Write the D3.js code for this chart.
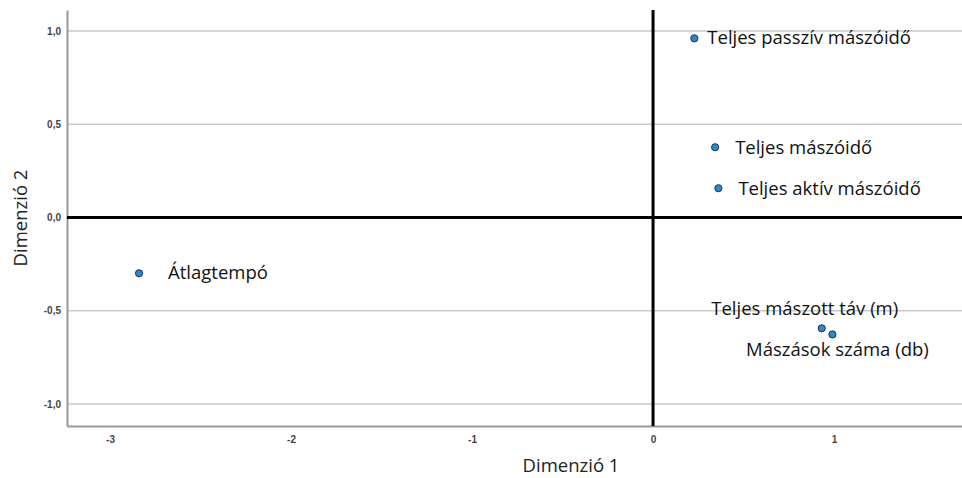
<!DOCTYPE html>
<html><head><meta charset="utf-8">
<script src="https://cdn.jsdelivr.net/npm/d3@7"></script>
<style>body{margin:0;background:#fff}svg{display:block}</style>
</head><body>
<svg id="c" width="962" height="478"></svg>
<script>
const names = ["Átlagtempó","Teljes passzív mászóidő","Teljes mászóidő","Teljes aktív mászóidő","Teljes mászott táv (m)","Mászások száma (db)"];
const dim1 = [-2.84, 0.228, 0.343, 0.361, 0.932, 0.991];
const dim2 = [-0.299, 0.961, 0.377, 0.157, -0.594, -0.627];
const xTicks = [-3, -2, -1, 0, 1];
const xTickLabels = ["-3", "-2", "-1", "0", "1"];
const yTicks = [1.0, 0.5, 0.0, -0.5, -1.0];
const yTickLabels = ["1,0", "0,5", "0,0", "-0,5", "-1,0"];
const xTitle = "Dimenzió 1";
const yTitle = "Dimenzió 2";

// label placement (style): [dx, dy, anchor]
const labelPos = [[29,1,"start"],[13,1,"start"],[20,2,"start"],[20,2,"start"],[-17,-18,"middle"],[5,17,"middle"]];

const svg = d3.select("#c");
const L = 67, R = 962, T = 10, B = 426;
const x = d3.scaleLinear().domain([-3.238, 1.707]).range([L, R]);
const y = d3.scaleLinear().domain([-1.118, 1.113]).range([B, T]);

// grid lines
svg.append("g").selectAll("line").data(yTicks.filter(d => d !== 0)).join("line")
  .attr("x1", L).attr("x2", R).attr("y1", d => y(d)).attr("y2", d => y(d))
  .attr("stroke", "#c9c9c9").attr("stroke-width", 1.5);

// axes
const xAxis = d3.axisBottom(x).tickValues(xTicks).tickFormat((d,i) => xTickLabels[i]).tickSize(0).tickPadding(10);
const gx = svg.append("g").attr("transform", `translate(0,${B})`).call(xAxis);
gx.select(".domain").attr("stroke", "#999").attr("stroke-width", 2);
gx.selectAll("text").attr("font-family", "Liberation Sans, Arial, sans-serif").attr("font-size", 10).attr("font-weight", "bold").attr("fill", "#444");

const yAxis = d3.axisLeft(y).tickValues(yTicks).tickFormat((d,i) => yTickLabels[i]).tickSize(0).tickPadding(6);
const gy = svg.append("g").attr("transform", `translate(${L},0)`).call(yAxis);
gy.select(".domain").attr("stroke", "#999").attr("stroke-width", 2);
gy.selectAll("text").attr("font-family", "Liberation Sans, Arial, sans-serif").attr("font-size", 10).attr("font-weight", "bold").attr("fill", "#444");

// zero lines
svg.append("line").attr("x1", L).attr("x2", R).attr("y1", y(0)).attr("y2", y(0)).attr("stroke", "#000").attr("stroke-width", 3);
svg.append("line").attr("x1", x(0)).attr("x2", x(0)).attr("y1", T).attr("y2", B).attr("stroke", "#000").attr("stroke-width", 3);

// points
const pts = names.map((n, i) => ({n, a: dim1[i], b: dim2[i], p: labelPos[i]}));
svg.append("g").selectAll("circle").data(pts).join("circle")
  .attr("cx", d => x(d.a)).attr("cy", d => y(d.b)).attr("r", 3.6)
  .attr("fill", "#2f86c8").attr("stroke", "#1b3550").attr("stroke-width", 1);

svg.append("g").selectAll("text").data(pts).join("text")
  .attr("x", d => x(d.a) + d.p[0]).attr("y", d => y(d.b) + d.p[1])
  .attr("text-anchor", d => d.p[2]).attr("dominant-baseline", "middle")
  .attr("font-family", "Open Sans, sans-serif").attr("font-size", 18.5).attr("fill", "#111")
  .text(d => d.n);

// titles
svg.append("text").attr("x", 571).attr("y", 467).attr("text-anchor", "middle").attr("dominant-baseline", "middle")
  .attr("font-family", "Open Sans, sans-serif").attr("font-size", 18.5).attr("fill", "#222").text(xTitle);
svg.append("text").attr("transform", `translate(22,${(T + B) / 2}) rotate(-90)`).attr("text-anchor", "middle").attr("dominant-baseline", "middle")
  .attr("font-family", "Open Sans, sans-serif").attr("font-size", 18.5).attr("fill", "#222").text(yTitle);
</script>
</body></html>
